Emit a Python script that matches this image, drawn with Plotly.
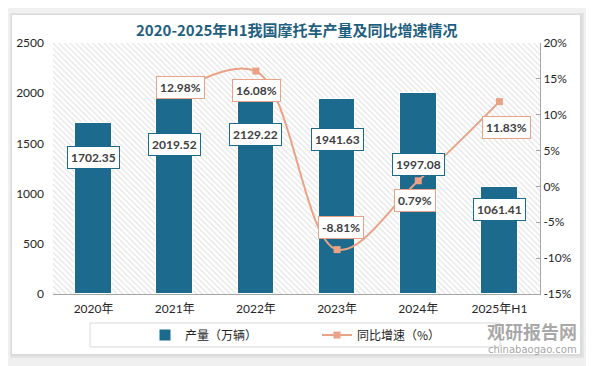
import plotly.graph_objects as go

# ---------------- data ----------------
categories = ["2020年", "2021年", "2022年", "2023年", "2024年", "2025年H1"]
production = [1702.35, 2019.52, 2129.22, 1941.63, 1997.08, 1061.41]
growth_categories = ["2021年", "2022年", "2023年", "2024年", "2025年H1"]
growth = [12.98, 16.08, -8.81, 0.79, 11.83]
left_ticks = [0, 500, 1000, 1500, 2000, 2500]
right_ticks = [-15, -10, -5, 0, 5, 10, 15, 20]

# ---------------- style ----------------
OFF = 8                      # page body margin offset of the figure
W, H = 594, 366
L, T = 53 - OFF, 43 - OFF
PW, PH = 487, 251
R, B = W - L - PW, H - T - PH
BAR = "#1C6A8D"
LINE = "#E9A285"
FONT = "Lato, 'Noto Sans CJK SC', sans-serif"
CJK = "'Noto Sans CJK SC', sans-serif"

def px_x(p):
    return (p - OFF - L) / PW

def px_y(p):
    return (T + PH - (p - OFF)) / PH

fig = go.Figure()

# hatched plot-area background
fig.add_trace(go.Bar(
    x=categories, y=[left_ticks[-1]] * len(categories), width=1,
    marker=dict(color="white", line=dict(width=0),
                pattern=dict(shape="\\", fgcolor="#bdbdbd", bgcolor="white",
                             size=4, solidity=0.25)),
    hoverinfo="skip", showlegend=False,
))

fig.add_trace(go.Bar(
    x=categories, y=production, width=0.45, name="产量（万辆）",
    marker=dict(color=BAR, line=dict(color="white", width=1)),
))

fig.add_trace(go.Scatter(
    x=growth_categories, y=growth, yaxis="y2", name="同比增速（%）",
    mode="lines+markers", line=dict(color=LINE, width=2, shape="spline", smoothing=1.0),
    marker=dict(symbol="square", size=7, color=LINE),
))

annotations = []
bar_shift = [-34, -53, -54, -40, -71, -22]
for c, v, s in zip(categories, production, bar_shift):
    annotations.append(dict(
        x=c, y=v, xref="x", yref="y", text=f"{v:.2f}", showarrow=False, yshift=s,
        font=dict(family=FONT, size=12, color="#404040", weight="bold"),
        bgcolor="white", bordercolor=BAR, borderwidth=1, borderpad=3,
    ))
line_shift = [(6, 6), (1, -19), (4, 22), (-3, -20), (7, -26)]
for c, v, (dx, dy) in zip(growth_categories, growth, line_shift):
    annotations.append(dict(
        x=c, y=v, xref="x", yref="y2", text=f"{v:.2f}%", showarrow=False,
        xshift=dx, yshift=dy,
        font=dict(family=FONT, size=12, color="#404040", weight="bold"),
        bgcolor="white", bordercolor=LINE, borderwidth=1, borderpad=3,
    ))

# title
annotations.append(dict(
    x=px_x(297), y=px_y(29), xref="paper", yref="paper", showarrow=False,
    text="2020-2025年H1我国摩托车产量及同比增速情况",
    font=dict(family=CJK, size=15, color="#1F5F7F", weight="bold"),
    xanchor="center", yanchor="middle",
))
# watermark
annotations.append(dict(
    x=px_x(579), y=px_y(331), xref="paper", yref="paper", showarrow=False,
    text="观研报告网", xanchor="right", yanchor="middle",
    font=dict(family=CJK, size=18, color="rgba(140,140,140,0.75)", weight="bold"),
))
annotations.append(dict(
    x=px_x(579), y=px_y(349), xref="paper", yref="paper", showarrow=False,
    text="chinabaogao.com", xanchor="right", yanchor="middle",
    font=dict(family="'DejaVu Sans', sans-serif", size=10, color="rgba(140,140,140,0.8)"),
))

shapes = [
    # card shadow
    dict(type="rect", xref="paper", yref="paper", layer="below",
         x0=px_x(10), x1=px_x(584), y0=px_y(358), y1=px_y(13),
         fillcolor="#e4e4e4", line=dict(width=0)),
    dict(type="rect", xref="paper", yref="paper", layer="below",
         x0=px_x(11), x1=px_x(582), y0=px_y(356), y1=px_y(14),
         fillcolor="#dadada", line=dict(width=0)),
    # card
    dict(type="rect", xref="paper", yref="paper", layer="below",
         x0=px_x(12), x1=px_x(580), y0=px_y(354), y1=px_y(15),
         fillcolor="white", line=dict(width=0)),
    # legend box
    dict(type="rect", xref="paper", yref="paper", layer="below",
         x0=px_x(90), x1=px_x(500), y0=px_y(347), y1=px_y(323),
         fillcolor="white", line=dict(color="#d9d9d9", width=1)),
]

fig.update_layout(
    width=W, height=H,
    margin=dict(l=L, r=R, t=T, b=B, autoexpand=False),
    paper_bgcolor="#f0f0f0",
    plot_bgcolor="rgba(0,0,0,0)",
    barmode="overlay",
    bargap=0,
    font=dict(family=FONT, size=11, color="#404040"),
    xaxis=dict(
        type="category", categoryorder="array", categoryarray=categories,
        range=[-0.5, len(categories) - 0.5],
        showline=True, linecolor="#a6a6a6", linewidth=1,
        ticks="", showgrid=False, tickfont=dict(family=FONT, size=12, color="#262626"),
        ticklabelstandoff=4, fixedrange=True,
    ),
    yaxis=dict(
        range=[left_ticks[0], left_ticks[-1]], tickvals=left_ticks,
        showgrid=False, zeroline=False, showline=False,
        tickfont=dict(family=FONT, size=12, color="#262626"), ticklabelstandoff=8,
    ),
    yaxis2=dict(
        overlaying="y", side="right",
        range=[right_ticks[0], right_ticks[-1]], tickvals=right_ticks,
        ticktext=[f"{t}%" for t in right_ticks],
        showgrid=False, zeroline=False,
        showline=True, linecolor="#a6a6a6", linewidth=1,
        ticks="inside", ticklen=4, tickcolor="#a6a6a6",
        tickfont=dict(family=FONT, size=12, color="#262626"),
    ),
    showlegend=True,
    legend=dict(
        orientation="h", x=px_x(145), y=px_y(335), xanchor="left", yanchor="middle",
        bgcolor="rgba(0,0,0,0)", borderwidth=0,
        font=dict(family=CJK, size=12, color="#262626"),
        entrywidth=127, entrywidthmode="pixels",
    ),
    annotations=annotations,
    shapes=shapes,
)

fig.write_html("out.html")
